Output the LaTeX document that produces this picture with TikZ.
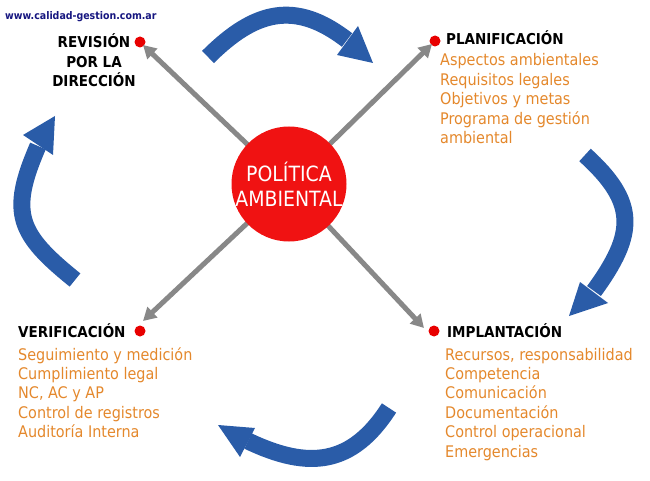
\documentclass[tikz,border=0pt]{standalone}
\usepackage{fontspec}
\setmainfont{DejaVu Sans Condensed}
\usetikzlibrary{arrows.meta}
\definecolor{cycblue}{RGB}{42,92,168}
\definecolor{discred}{RGB}{240,18,18}
\definecolor{dotred}{RGB}{232,0,0}
\definecolor{raygray}{RGB}{136,136,136}
\definecolor{txtorange}{RGB}{228,136,44}
\definecolor{urlblue}{RGB}{22,22,128}
\begin{document}
\begin{tikzpicture}[x=1pt,y=-1pt,
  listtext/.style={text=txtorange, font=\fontsize{16}{19.4}\selectfont, align=left, inner sep=0pt},
  headtext/.style={font=\bfseries\fontsize{15}{19.5}\selectfont, inner sep=0pt},
  dot/.style={circle, fill=dotred, minimum size=11pt, inner sep=0pt},
  ray/.style={draw=raygray, line width=5pt, -{Triangle[length=13pt,width=14pt]}},
  cycleline/.style={draw=cycblue, line width=17pt},
  cyclehead/.style={fill=cycblue}]
\useasboundingbox (0,0) rectangle (650,481);

% URL
\node[anchor=base west, inner sep=0pt, text=urlblue, font=\bfseries\fontsize{10.5}{12}\selectfont] (url) at (5,19.5) {www.calidad-gestion.com.ar};

% dots
\node[dot] (drev) at (140,42) {};
\node[dot] (dplan) at (435,41) {};
\node[dot] (dver) at (140,331) {};
\node[dot] (dimp) at (434,331) {};

% ray ends
\coordinate (c) at (289,184);
\coordinate (trev) at (143,45);
\coordinate (tplan) at (432,44);
\coordinate (tver) at (143,321);
\coordinate (timp) at (424,328);

\draw[ray] (c) -- (trev);
\draw[ray] (c) -- (tplan);
\draw[ray] (c) -- (tver);
\draw[ray] (c) -- (timp);

% centre disc
\node[circle, fill=discred, minimum size=115pt, inner sep=0pt] (disc) at (c) {};
\node[text=white, align=center, font=\fontsize{21}{25}\selectfont, inner sep=0pt] (policy) at (289,184) {POLÍTICA\\AMBIENTAL};

% headings (base anchor = baseline of the last line)
\node[headtext, align=center, anchor=base] (rev) at (94,87) {REVISIÓN\\POR LA\\DIRECCIÓN};
\node[headtext, anchor=base west] (plan) at (446,45) {PLANIFICACIÓN};
\node[headtext, anchor=base west] (ver) at (18,337) {VERIFICACIÓN};
\node[headtext, anchor=base west] (imp) at (447,337) {IMPLANTACIÓN};

% lists (base anchor = baseline of the last line)
\node[listtext, anchor=base west] (lplan) at (440,143.6) {Aspectos ambientales\\Requisitos legales\\Objetivos y metas\\Programa de gestión\\ambiental};
\node[listtext, anchor=base west] (lver) at (18,437.6) {Seguimiento y medición\\Cumplimiento legal\\NC, AC y AP\\Control de registros\\Auditoría Interna};
\node[listtext, anchor=base west] (limp) at (445,457) {Recursos, responsabilidad\\Competencia\\Comunicación\\Documentación\\Control operacional\\Emergencias};

% cycle arrows
\coordinate (a1s) at (208,57);
\coordinate (a1e) at (347,40);
\draw[cycleline] (a1s) .. controls (254.6,10.4) and (295.1,-0.1) .. (a1e);
\fill[cyclehead] (337,55) -- (358,26) -- (373,63) -- cycle;

\coordinate (a2s) at (585,155);
\coordinate (a2e) at (594,291);
\draw[cycleline] (a2s) .. controls (637.5,202.6) and (635.9,233.5) .. (a2e);
\fill[cyclehead] (580,282) -- (608,303) -- (569,316) -- cycle;

\coordinate (a3s) at (389,408);
\coordinate (a3e) at (248,441);
\draw[cycleline] (a3s) .. controls (352.3,465.1) and (309.2,470.2) .. (a3e);
\fill[cyclehead] (255,428) -- (240,457) -- (218,425) -- cycle;

\coordinate (a4s) at (75,280);
\coordinate (a4e) at (38,146);
\draw[cycleline] (a4s) .. controls (18,234) and (8.8,213.2) .. (a4e);
\fill[cyclehead] (23,135) -- (53,155) -- (55,116) -- cycle;
\end{tikzpicture}
\end{document}
